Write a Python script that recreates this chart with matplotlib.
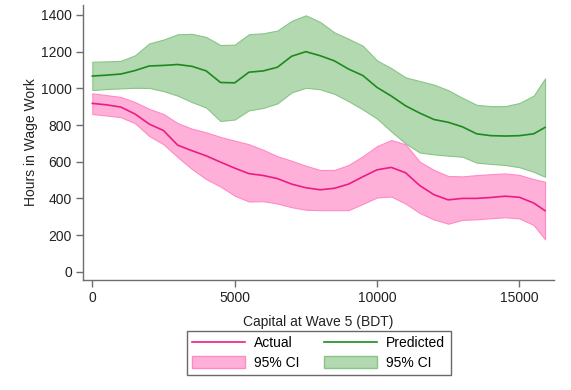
import matplotlib
matplotlib.use("Agg")
import matplotlib.pyplot as plt
import numpy as np
from matplotlib.patches import Patch
from matplotlib.lines import Line2D

plt.rcParams['font.family'] = ['Liberation Sans', 'DejaVu Sans']

# capital at wave 5 (BDT)
capital = [0, 500, 1000, 1500, 2000, 2500, 3000, 3500, 4000, 4500, 5000, 5500,
           6000, 6500, 7000, 7500, 8000, 8500, 9000, 9500, 10000, 10500, 11000,
           11500, 12000, 12500, 13000, 13500, 14000, 14500, 15000, 15500, 15900]

# hours in wage work - actual, with 95% CI
actual = [918, 910, 898, 860, 805, 770, 690, 660, 632, 598, 565, 535,
          525, 508, 478, 458, 447, 455, 478, 518, 556, 569, 540,
          470, 420, 392, 400, 400, 405, 412, 406, 375, 333]
actual_hi = [973, 963, 953, 925, 888, 860, 810, 780, 760, 735, 715, 695,
             665, 630, 605, 578, 555, 555, 582, 630, 685, 718, 695,
             600, 555, 522, 520, 527, 532, 536, 528, 505, 491]
actual_lo = [860, 852, 843, 810, 740, 695, 625, 560, 505, 465, 415, 383,
             385, 372, 352, 338, 336, 336, 336, 370, 405, 410, 372,
             320, 285, 262, 283, 286, 292, 297, 291, 255, 177]

# hours in wage work - predicted, with 95% CI
predicted = [1067, 1072, 1078, 1097, 1122, 1125, 1130, 1120, 1095, 1032, 1030, 1088,
             1095, 1115, 1175, 1200, 1178, 1150, 1105, 1070, 1005, 958, 905,
             865, 830, 815, 790, 752, 742, 740, 742, 752, 787]
predicted_hi = [1145, 1147, 1150, 1180, 1245, 1266, 1295, 1297, 1280, 1236, 1238, 1295,
                1300, 1315, 1368, 1398, 1362, 1305, 1270, 1232, 1152, 1110, 1060,
                1040, 1020, 990, 948, 910, 903, 903, 920, 960, 1054]
predicted_lo = [991, 996, 1000, 1003, 1002, 985, 960, 925, 895, 822, 830, 880,
                893, 918, 978, 1003, 995, 970, 930, 885, 835, 765, 700,
                650, 640, 633, 627, 595, 588, 582, 570, 545, 518]

xticks = [0, 5000, 10000, 15000]
yticks = [0, 200, 400, 600, 800, 1000, 1200, 1400]

pink_line = '#ec1c84'
pink_fill = '#ffb0d8'
pink_edge = '#ff8ac4'
green_line = '#1e8a1e'
green_fill = '#b2d9b0'
green_edge = '#8ac48a'

fig = plt.figure(figsize=(5.71, 3.90), dpi=100)
ax = fig.add_axes([0.1454, 0.282, 0.8246, 0.705])

ax.fill_between(capital, actual_lo, actual_hi, facecolor=pink_fill,
                edgecolor=pink_edge, linewidth=0.8)
ax.fill_between(capital, predicted_lo, predicted_hi, facecolor=green_fill,
                edgecolor=green_edge, linewidth=0.8)
ax.plot(capital, actual, color=pink_line, lw=1.2)
ax.plot(capital, predicted, color=green_line, lw=1.2)

ax.set_xlim(-327, 16210)
ax.set_ylim(-45, 1454)
ax.set_xticks(xticks)
ax.set_yticks(yticks)
for s in ['top', 'right']:
    ax.spines[s].set_visible(False)
for s in ['left', 'bottom']:
    ax.spines[s].set_color('#6e6e6e')
    ax.spines[s].set_linewidth(1.0)
ax.tick_params(direction='out', length=5, width=1, color='#6e6e6e',
               labelsize=10, labelcolor='#222222', pad=3)
ax.set_ylabel('Hours in Wage Work', fontsize=10, color='#222222', labelpad=2)
ax.set_xlabel('Capital at Wave 5 (BDT)', fontsize=10, color='#222222', labelpad=7)

handles = [
    Line2D([], [], color=pink_line, lw=1.2),
    Patch(facecolor=pink_fill, edgecolor=pink_edge),
    Line2D([], [], color=green_line, lw=1.2),
    Patch(facecolor=green_fill, edgecolor=green_edge),
]
labels = ['Actual', '95% CI', 'Predicted', '95% CI']
leg = fig.legend(handles, labels, ncol=2, loc='lower center',
                 bbox_to_anchor=(0.558, 0.02), fontsize=10, frameon=True,
                 fancybox=False, handlelength=3.8, handleheight=0.9,
                 columnspacing=1.8, borderpad=0.4, labelspacing=0.4,
                 handletextpad=0.65)
leg.get_frame().set_edgecolor('#444444')
leg.get_frame().set_linewidth(1.0)

fig.savefig('out.png', dpi=100)
